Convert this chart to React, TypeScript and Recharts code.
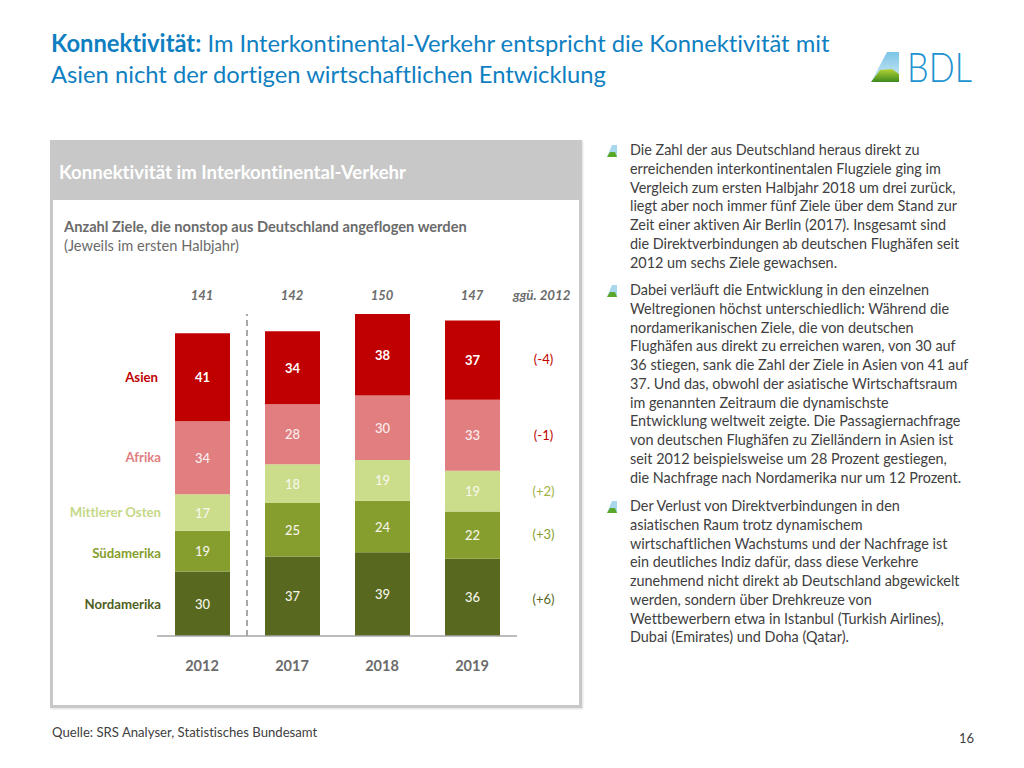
import React from 'react';
import { BarChart, Bar, XAxis, YAxis, LabelList, ReferenceLine } from 'recharts';

const years = ['2012', '2017', '2018', '2019'];
const totals = ['141', '142', '150', '147'];
const nordamerika = [30, 37, 39, 36];
const suedamerika = [19, 25, 24, 22];
const mittlererOsten = [17, 18, 19, 19];
const afrika = [34, 28, 30, 33];
const asien = [41, 34, 38, 37];
const deltaLabel = 'ggü. 2012';

const rows = years.map((year, i) => ({
  year,
  total: totals[i],
  nordamerika: nordamerika[i],
  suedamerika: suedamerika[i],
  mittlererOsten: mittlererOsten[i],
  afrika: afrika[i],
  asien: asien[i],
}));

const seriesList = [
  { key: 'nordamerika', name: 'Nordamerika', delta: '(+6)', fill: '#58681f', nameColor: '#4f5f1c', deltaColor: '#58681f', bold: false, valueColor: '#f4f4e8', nameRight: 161, nameDy: 1, deltaDy: 3 },
  { key: 'suedamerika', name: 'Südamerika', delta: '(+3)', fill: '#869e2e', nameColor: '#869e2e', deltaColor: '#869e2e', bold: false, valueColor: '#f4f4e8', nameRight: 161, nameDy: 2, deltaDy: 0 },
  { key: 'mittlererOsten', name: 'Mittlerer Osten', delta: '(+2)', fill: '#cbdc8a', nameColor: '#c6d887', deltaColor: '#9fb342', bold: false, valueColor: '#f7f7ec', nameRight: 161, nameDy: 0, deltaDy: 1 },
  { key: 'afrika', name: 'Afrika', delta: '(-1)', fill: '#e07e80', nameColor: '#e07e80', deltaColor: '#c00000', bold: false, valueColor: '#fbeeee', nameRight: 161, nameDy: 0, deltaDy: 1 },
  { key: 'asien', name: 'Asien', delta: '(-4)', fill: '#c00000', nameColor: '#c00000', deltaColor: '#c00000', bold: true, valueColor: '#ffffff', nameRight: 158, nameDy: 0, deltaDy: 0 },
];

const FONT = 'Lato, Carlito, sans-serif';

const bodyParagraphs = [
  { top: 141, lines: [
    'Die Zahl der aus Deutschland heraus direkt zu',
    'erreichenden interkontinentalen Flugziele ging im',
    'Vergleich zum ersten Halbjahr 2018 um drei zurück,',
    'liegt aber noch immer fünf Ziele über dem Stand zur',
    'Zeit einer aktiven Air Berlin (2017). Insgesamt sind',
    'die Direktverbindungen ab deutschen Flughäfen seit',
    '2012 um sechs Ziele gewachsen.',
  ] },
  { top: 281, lines: [
    'Dabei verläuft die Entwicklung in den einzelnen',
    'Weltregionen höchst unterschiedlich: Während die',
    'nordamerikanischen Ziele, die von deutschen',
    'Flughäfen aus direkt zu erreichen waren, von 30 auf',
    '36 stiegen, sank die Zahl der Ziele in Asien von 41 auf',
    '37. Und das, obwohl der asiatische Wirtschaftsraum',
    'im genannten Zeitraum die dynamischste',
    'Entwicklung weltweit zeigte. Die Passagiernachfrage',
    'von deutschen Flughäfen zu Zielländern in Asien ist',
    'seit 2012 beispielsweise um 28 Prozent gestiegen,',
    'die Nachfrage nach Nordamerika nur um 12 Prozent.',
  ] },
  { top: 497, lines: [
    'Der Verlust von Direktverbindungen in den',
    'asiatischen Raum trotz dynamischem',
    'wirtschaftlichen Wachstums und der Nachfrage ist',
    'ein deutliches Indiz dafür, dass diese Verkehre',
    'zunehmend nicht direkt ab Deutschland abgewickelt',
    'werden, sondern über Drehkreuze von',
    'Wettbewerbern etwa in Istanbul (Turkish Airlines),',
    'Dubai (Emirates) und Doha (Qatar).',
  ] },
];

const abs = (left: number, top: number, extra: React.CSSProperties = {}): React.CSSProperties => ({
  position: 'absolute',
  left,
  top,
  whiteSpace: 'nowrap',
  ...extra,
});

const Bullet = ({ top }: { top: number }) => (
  <svg style={abs(607, top)} width={11} height={14} viewBox="0 0 11 14">
    <polygon points="0,13 5,1 10,1 10,13" fill="#a8d8ee" />
    <polygon points="0,13 3,8 8,8 10,13" fill="#5aa82a" />
  </svg>
);

const Logo = () => (
  <svg style={abs(868, 44)} width={140} height={64} viewBox="0 0 140 64">
    <defs>
      <linearGradient id="sky" x1="0" y1="0" x2="0" y2="1">
        <stop offset="0" stopColor="#7cc4e6" />
        <stop offset="1" stopColor="#d4ecf7" />
      </linearGradient>
      <linearGradient id="hill" x1="0" y1="0" x2="0" y2="1">
        <stop offset="0" stopColor="#b5d334" />
        <stop offset="1" stopColor="#3d8a1e" />
      </linearGradient>
    </defs>
    <polygon points="3,38 19,8 31,8 31,38" fill="url(#sky)" />
    <polygon points="3,38 12,26 24,25 31,30 31,38" fill="url(#hill)" />
    <text x={39} y={38} fontFamily={FONT} fontWeight={300} fontSize={41} fill="#1d93cf" textLength={65} lengthAdjust="spacingAndGlyphs">
      BDL
    </text>
  </svg>
);

// value in the bar, region name left of the first bar, delta right of the last one
const SegmentLabel = (props: any) => {
  const { x, y, width, height, value, index, series } = props;
  const cx = x + width / 2;
  const cy = y + height / 2;
  return (
    <g fontFamily={FONT}>
      <text x={cx} y={cy + 5} textAnchor="middle" fontSize={13} fontWeight={series.bold ? 700 : 500} fill={series.valueColor}>
        {value}
      </text>
      {index === 0 && (
        <text x={series.nameRight} y={cy + 4.5 + series.nameDy} textAnchor="end" fontSize={13.2} fontWeight={700} fill={series.nameColor}>
          {series.name}
        </text>
      )}
      {index === years.length - 1 && (
        <text x={cx + 71} y={cy + 4 + series.deltaDy} textAnchor="middle" fontSize={13} fill={series.deltaColor}>
          {series.delta}
        </text>
      )}
    </g>
  );
};

export default function App() {
  return (
    <div style={{ position: 'absolute', left: 0, top: 0, width: 1024, height: 768, background: '#fff', fontFamily: FONT, overflow: 'hidden', fontVariantLigatures: 'none' }}>
      <div style={abs(51, 28, { fontSize: 23.75, lineHeight: '31px', color: '#0f7fc2' })}>
        <b>Konnektivität:</b> Im Interkontinental-Verkehr entspricht die Konnektivität mit
        <br />
        Asien nicht der dortigen wirtschaftlichen Entwicklung
      </div>
      <Logo />

      <div style={{ position: 'absolute', left: 50, top: 140, width: 526, height: 562, border: '3px solid #c8c8c8', boxShadow: '1px 1px 2px #ddd' }} />
      <div style={{ position: 'absolute', left: 50, top: 140, width: 532, height: 60, background: '#c8c8c8' }} />
      <div style={abs(59, 161, { fontSize: 18.6, fontWeight: 700, color: '#fff' })}>Konnektivität im Interkontinental-Verkehr</div>
      <div style={abs(64, 217, { fontSize: 14.65, lineHeight: '19px', color: '#6b6b6b' })}>
        <b>Anzahl Ziele, die nonstop aus Deutschland angeflogen werden</b>
        <br />
        (Jeweils im ersten Halbjahr)
      </div>

      <div style={{ position: 'absolute', left: 0, top: 0 }}>
        <BarChart
          width={1024}
          height={768}
          data={rows}
          margin={{ top: 284, right: 507, bottom: 92, left: 157 }}
          style={{ background: 'transparent' }}
        >
          <YAxis hide domain={[0, 150]} />
          <XAxis
            dataKey="year"
            height={40}
            tickLine={false}
            axisLine={{ stroke: '#a6a6a6', strokeWidth: 1.5 }}
            tickMargin={19}
            tick={{ fill: '#6b6b6b', fontSize: 14.5, fontWeight: 700, fontFamily: FONT }}
          />
          <XAxis
            xAxisId="totals"
            dataKey="total"
            orientation="top"
            height={30}
            tickLine={false}
            axisLine={false}
            tickMargin={8}
            tick={{ fill: '#6b6b6b', fontSize: 13, fontStyle: 'italic', fontWeight: 700, fontFamily: FONT }}
          />
          {seriesList.map((s) => (
            <Bar key={s.key} dataKey={s.key} stackId="a" barSize={55} fill={s.fill} isAnimationActive={false}>
              <LabelList dataKey={s.key} content={(p: any) => <SegmentLabel {...p} series={s} />} />
            </Bar>
          ))}
          <ReferenceLine x="2012" position="end" stroke="#8c8c8c" strokeWidth={1.5} strokeDasharray="6 4" />
        </BarChart>
      </div>

      <div style={abs(513, 287, { fontSize: 13.3, fontStyle: 'italic', fontWeight: 700, color: '#6b6b6b' })}>{deltaLabel}</div>

      {bodyParagraphs.map((p) => (
        <React.Fragment key={p.top}>
          <Bullet top={p.top + 3} />
          <div style={abs(630, p.top, { fontSize: 14.4, lineHeight: '18.75px', color: '#404040' })}>
            {p.lines.map((line) => (
              <div key={line}>{line}</div>
            ))}
          </div>
        </React.Fragment>
      ))}

      <div style={abs(52, 724, { fontSize: 13.15, color: '#404040' })}>Quelle: SRS Analyser, Statistisches Bundesamt</div>
      <div style={abs(959, 730, { fontSize: 13, color: '#404040' })}>16</div>
    </div>
  );
}
